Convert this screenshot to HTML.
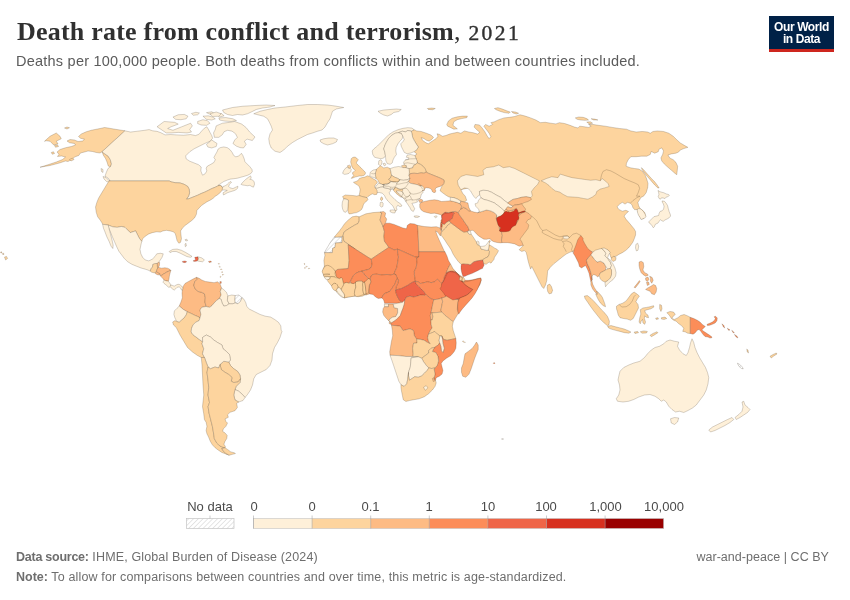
<!DOCTYPE html>
<html><head><meta charset="utf-8">
<title>Death rate from conflict and terrorism, 2021</title>
<style>
html,body{margin:0;padding:0;background:#fff;}
body{width:850px;height:600px;position:relative;overflow:hidden;font-family:"Liberation Sans",sans-serif;color:#5b5b5b;}
.t{position:absolute;white-space:nowrap;line-height:1;}
#title{left:17px;top:19px;font-family:"Liberation Serif",serif;font-size:26px;color:#303030;font-weight:bold;letter-spacing:0.22px}
#title span{font-weight:normal;}
#yr{font-size:21.5px;letter-spacing:2.4px;margin-left:1px;-webkit-text-stroke:0.4px #303030}
#sub{left:16px;top:54.3px;font-size:14.5px;color:#5b5b5b;letter-spacing:0.23px}
#logo{position:absolute;left:769px;top:16px;width:65px;height:33px;background:#002147;border-bottom:3px solid #ce261e;color:#fff;font-weight:bold;font-size:12px;line-height:12px;text-align:center;}
#logo div{margin-top:5px;letter-spacing:-0.4px}
.lg{font-size:13px;color:#4a4a4a;top:500px;transform:translateX(-50%);}
.ft{font-size:12.5px;color:#6e6e6e;}
</style></head><body>
<div id="title" class="t">Death rate from conflict and terrorism<span>, </span><span id="yr">2021</span></div>
<div id="sub" class="t">Deaths per 100,000 people. Both deaths from conflicts within and between countries included.</div>
<div id="logo"><div>Our World<br>in Data</div></div>
<svg id="map" width="850" height="600" viewBox="0 0 850 600" style="position:absolute;left:0;top:0">
<defs>
<pattern id="hatch" width="3.4" height="3.4" patternUnits="userSpaceOnUse" patternTransform="rotate(45)"><rect width="3.4" height="3.4" fill="#fff"/><rect width="0.8" height="3.4" fill="#e0e0e0"/></pattern>
</defs>
<g stroke="#3a2a1a" stroke-opacity="0.42" stroke-width="0.5" stroke-linejoin="round">
<path d="M414.12,129.76 416.76,130.94 421.18,131.47 426.47,133.24 430.88,135 433.53,137.29 431.76,139.41 429.12,141.18 426.47,140.29 423.82,138.53 421.18,137.65 422.59,140.29 425.59,142.59 428.24,143.82 430.88,142.06 433.53,140.29 436.18,138.53 437.94,136.24 437.06,133.76 439.71,134.47 442.35,136.24 445.88,135.53 449.41,134.12 452.94,133.24 457.35,132.35 460.88,133.24 464.41,130.94 468.82,132 473.23,132.71 477.65,134.12 479.76,132.35 476.76,129.71 474.12,127.06 475,124.41 479.41,124.94 482.06,127.94 484.71,131.47 487.35,136.24 489.12,138.53 490.88,136.76 489.12,133.24 486.47,129.71 483.82,126.18 485.59,124.41 489.12,126.18 492.65,124.41 490.88,122.65 494.41,121.76 498.82,119.65 504.12,117.88 509.41,117.35 514.71,116.47 520,114.71 525.29,116.12 530.59,117.88 535.88,120 539.41,122.12 540,122.65 545.29,122.29 550.59,123.18 555.88,123.88 559.41,122.65 564.71,123.53 570,125.29 574.41,127.06 577.94,127.94 579.71,126.18 584.12,126.71 588.53,127.41 591.18,126.18 588.53,124.41 592.94,124.41 598.23,125.29 605.29,126.18 612.35,127.41 619.41,128.47 626.47,129.18 630.88,130.94 636.18,132 642.35,131.47 647.65,132 650.29,133.24 652.94,131.47 657.35,130.94 663.53,131.47 668.82,133.24 673.23,136.24 676.76,139.76 680.29,142.94 684.71,145.59 687.88,147.35 683.82,148.59 680.29,150 678.53,152.12 675.88,153.18 671.47,153.88 667.94,154.94 669.71,157.94 673.23,159.71 675.88,162.35 677.65,166.23 677.29,170.29 676.76,174.71 674.47,172.94 671.47,170.29 667.94,167.29 664.41,164.12 661.76,160.94 660.88,157.94 662.65,154.41 663.53,150.88 661.76,147.88 659.12,149.12 658.23,151.76 654.71,153.18 651.18,151.41 650.29,154.41 646.76,156.18 641.47,156.18 636.18,156.71 630.88,156.71 628.23,159.71 626.47,163.23 626.12,166.23 630,167.65 634.41,168.53 638.82,169.06 642.35,171.18 645,174.71 646.76,179.12 648,183.53 647.65,187.94 647.59,187.88 646.18,192.65 643.53,196.18 640.88,197.41 639.65,199.71 637.88,202.35 638.59,205.53 640,208.53 642.65,210.29 644.94,212.94 645.65,216.47 643.53,218.59 641.41,219.12 639.65,216.47 638.23,212.94 637.35,209.41 634.71,209.76 632.94,207.65 632.06,205 630.29,203.24 627.65,202.35 625,204.12 622.35,202.35 619.71,204.12 617.06,206.76 618.82,209.41 622.35,211.18 625.88,210.29 628.53,211.53 625.88,213.82 624.12,216.12 625.88,219.12 628.53,222.12 631.18,225.29 633.82,228.47 635.59,231.47 635.59,235 634.35,238.53 632.94,242.06 630.82,245.06 628.53,247.88 625.88,250.35 622.35,252.65 618.82,254.41 616.18,256.18 613.53,256.71 612.65,258.82 610.88,257.41 609.12,251.76 607.65,249.71 600.59,254.12 588.23,250.59 581.18,250.59 575.53,250.59 574.12,250.94 572.35,251.47 569.71,252.35 566.18,254.12 562.65,256.76 558.24,260.29 553.82,263.82 550.29,267.35 547.65,270.88 547.29,275.29 546.76,280.59 545.53,285 543.76,288.53 542,286.76 539.71,282.35 537.06,277.06 534.41,271.76 531.76,266.47 530.59,269.12 529.18,264.71 527.94,260.29 527.06,255.88 526.18,252.35 524.41,250.59 521.76,251.47 519.12,249.71 520.88,247.94 523.18,245.65 516.47,238.23 512.94,234.71 509.41,220.59 514.71,208.23 520,201.18 520,192.35 505.88,185.29 479.41,185.29 460.88,189.71 462.65,193.24 465.29,196.24 466.71,200.29 464.41,202.06 460.88,201.18 457.35,199.06 453.82,197.65 450.29,197.29 448.25,196.63 445.25,194.75 442.25,192.5 440,190.63 440.75,188.75 441.5,186.88 442.63,185 443.75,183.5 444.13,181.25 443.77,179.88 439.53,177.77 436,176.35 432.47,174.94 428.94,173.53 426.12,172.12 425.41,169.29 423.29,166.47 420.47,164.35 417.37,162.94 416.94,160.82 416.24,158.71 415.53,157.29 414.82,155.46 416.94,154.05 415.53,153.06 414.12,151.65 416.94,149.53 418.35,146.99 416.24,143.88 414.12,140.35 412.71,137.53 412,134 411.29,131.18Z" fill="#fdd49e"/>
<path d="M324.41,266.18 328.82,265.82 332.35,267.94 335.53,271.12 336.76,273.76 339.41,274.65 342.94,277.65 346.47,281.18 349.12,282.94 346.47,282.06 344.71,283.82 343.82,286.47 342.94,290 342.06,290.35 340.29,289.12 338.53,290 336.76,292.12 335,290 333.24,287.35 332,284.71 330.59,282.06 328.82,280.29 326.18,278.53 324.41,276.76 323.53,274.12 322.65,271.47 323.18,268.82Z" fill="#fdd49e"/>
<path d="M336.76,292.12 338.53,290 340.29,289.12 342.06,290.35 342.94,290 343.82,292.65 344.71,295.29 344.35,297.94 341.18,296.71 338.53,294.41Z" fill="#fef0d9"/>
<path d="M344.35,297.94 344.71,295.29 343.82,292.65 342.94,290 343.82,286.47 344.71,283.82 346.47,282.06 349.12,282.94 350.88,282.59 352.65,283.82 354.41,282.59 355.29,284.71 356.18,288.24 355.29,291.76 356.18,296.18 353.53,296.18 348.24,297.06Z" fill="#fdd49e"/>
<path d="M356.18,296.18 355.29,291.76 356.18,288.24 355.29,284.71 354.41,282.59 356.18,281.53 359.71,281.18 362.35,282.06 363.24,284.71 362.71,289.12 363.76,292.65 365,294.94 362.35,296.18 357.94,296.71Z" fill="#fdd49e"/>
<path d="M365,294.94 363.76,292.65 362.71,289.12 363.24,284.71 362.35,282.06 364.12,280.82 365,283.82 365.53,288.24 366.24,294.94Z" fill="#fdd49e"/>
<path d="M366.24,294.94 365.53,288.24 365,283.82 364.12,280.82 366.76,279.41 368.53,277.65 370.29,278.53 370.82,282.06 369.41,285.59 369.06,290 369.41,293.88Z" fill="#fdbb84"/>
<path d="M446.18,272.94 444.41,276.47 443.53,280 441.76,283.53 442.65,286.47 444.41,289.12 446.18,291.76 447.06,294.41 450.59,297.06 455,299.18 458.53,299.71 463.24,297.29 466.76,295 470.29,292.35 472.94,289.18 471.18,287.94 468.53,286.18 466.24,284.41 464.12,283.18 462.35,281.76 462,279.12 460.24,276.47 457.94,273.82 455.29,271.53 451.76,270.82 448.24,271.53Z" fill="#ef6548"/>
<path d="M464.12,281.76 464.82,280.35 468.53,280.35 472.94,279.65 477.35,278.59 480.88,277.88 481.41,280 480,284.41 477.35,288.82 473.82,294.12 470.29,298.53 466.76,302.59 463.24,306.47 460.59,310 458.82,312.65 458.53,312.94 457.29,309.41 457.65,304.12 458.53,299.71 463.24,297.29 466.76,295 470.29,292.35 472.94,289.18 471.18,287.94 468.53,286.18 466.24,284.41 464.12,283.18 462.35,281.76Z" fill="#fc8d59"/>
<path d="M441.47,214.94 443.24,213.53 445,212.12 448.53,212.65 452.06,211.76 452.94,213.88 451.53,217.06 449.06,219.71 445.88,222 443.24,223.24 442,222.71 442,219.18 441.65,217.06Z" fill="#ef6548"/>
<path d="M496.71,214.94 499.71,213.53 504.12,211.76 508.53,210.88 512.94,210 516.47,208.23 517.88,210.88 518.23,213.53 521.76,211.76 524.94,210.88 525.65,211.76 521.76,213.18 519.12,215.29 517.88,217.94 518.23,220.59 516.47,223.23 513.82,225.53 511.18,227.65 507.65,230.29 503.23,231.53 499.71,230.29 498.82,225.88 497.41,222.35 496.18,218.82Z" fill="#fdbb84"/>
<path d="M503.76,210.71 505.88,208.76 508.88,210.71 508.35,212.29 505.88,211.59 504.12,212.65Z" fill="#fdbb84"/>
<path d="M352.29,216.82 356.18,216.12 359.18,216.82 359.18,220.88 357.94,223.53 354.41,225.29 350,227.94 346.47,230.24 343.82,232.35 342.94,236.24 337.65,237.29 334.12,237.29 336.76,234.12 339.41,230.94 342.06,227.41 344.71,223.53 348.24,220Z" fill="#fdd49e"/>
<path d="M334.12,237.29 342.06,237.29 342.06,242.59 335.53,242.94 335,247.35 332.71,248.23 332.35,252.65 324.41,252.65 325.29,250.88 327.94,246.47 330.59,242.06Z" fill="url(#hatch)"/>
<path d="M359.18,216.82 365.88,213.82 372.94,212.59 380,212.06 381.76,212.94 380.88,216.47 380,220 381.76,223.53 383.18,227.06 384.41,231.47 383.88,236.24 384.41,241.18 387.06,244.71 388.82,247.35 378.23,254.41 371.18,259.18 367.65,257.06 355.29,249.12 343.82,241.18 342.94,236.24 343.82,232.35 346.47,230.24 350,227.94 354.41,225.29 357.94,223.53 359.18,220.88Z" fill="#fdd49e"/>
<path d="M380,212.06 383.53,211.53 385.65,212.94 384.94,216.47 386.71,219.12 385.65,222.65 383.88,225.29 383.18,227.06 381.76,223.53 380,220 380.88,216.47 381.76,212.94Z" fill="#fdbb84"/>
<path d="M383.18,227.06 383.88,225.29 385.65,223.18 389.71,223.18 394.12,224.41 398.53,226.18 402.94,227.94 406.47,228.82 407.35,225.29 410,223.53 414.41,223.88 417.41,225.29 417.94,230.59 418.47,241.18 418.82,250.88 418.82,257.06 415.29,257.06 397.65,249.12 394.12,250 388.82,247.35 387.06,244.71 384.41,241.18 383.88,236.24 384.41,231.47Z" fill="#fc8d59"/>
<path d="M417.41,225.29 424.12,226.53 431.18,227.06 436.47,226.71 440,227.94 441.76,231.47 440.35,235.88 437.88,232.35 435.59,230.94 437,235 439.29,240.29 441.76,245.59 444.23,250.88 444.94,251.76 418.82,251.76 418.47,241.18 417.94,230.59Z" fill="#fdbb84"/>
<path d="M342.06,237.29 342.94,236.24 343.82,241.18 355.29,249.12 348.24,244.71 348.59,251.76 349.12,260.59 348.24,268.53 342.94,269.06 337.65,269.41 335.53,271.18 332.35,268.53 328.82,265.88 324.41,266.23 323.88,260.59 324.94,255.29 324.41,252.65 332.35,252.65 332.71,248.23 335,247.35 335.53,242.94 342.06,242.59Z" fill="#fdd49e"/>
<path d="M348.24,244.71 355.29,249.12 367.65,257.06 371.18,259.18 371.53,260.59 372.06,264.12 371.18,267.65 368.53,269.41 361.12,271.29 358.47,272 355.47,273.59 353.18,275.71 351.76,278.71 350.18,281.71 348.76,283.29 346.82,282.59 344.71,282.94 343.82,284 342.76,281 342.41,278.71 341.18,277.65 339.41,278.71 336.41,276.94 336.06,275 335.18,271.29 337.65,269.41 342.94,269.06 348.24,268.53 349.12,260.59 348.59,251.76Z" fill="#fc8d59"/>
<path d="M371.18,259.18 378.23,254.41 388.82,247.35 394.12,250 397.65,249.12 397.65,252.65 398.53,257.06 397.65,262.35 396.76,267.65 395,271.18 394.12,273.82 395.88,274.65 394.12,274.12 390.59,275 387.06,274.47 381.76,275 376.47,274.12 372.94,274.47 371.18,275.88 370.29,278.53 369.76,279.06 368.26,278.35 366.76,276.87 364.47,274.65 363.01,272.35 361.12,271.29 368.53,269.41 371.18,267.65 372.06,264.12 371.53,260.59Z" fill="#fc8d59"/>
<path d="M397.65,249.12 415.29,257.06 418.82,257.06 416.71,257.94 417.06,262.35 416.18,267.65 414.41,271.18 414.41,274.71 414.94,277.65 415.29,281.18 411.76,282.59 408.23,285.06 404.71,286.82 401.18,288.59 397.65,289.47 395.53,290.35 396.23,286.47 397.65,283.82 398.53,280.29 397.29,278.53 395.88,274.65 394.12,273.82 395,271.18 396.76,267.65 397.65,262.35 398.53,257.06 397.65,252.65Z" fill="#fc8d59"/>
<path d="M418.82,251.76 444.94,251.76 447.06,256.18 448.47,260.59 450.59,264.12 449.71,265 447.94,268.53 446.18,272.94 444.41,276.47 443.53,280 441.76,283.53 440,281.76 437.35,279.12 434.71,281.76 431.18,282.65 427.65,281.76 424.12,282.65 420.59,283.53 417.94,281.76 415.29,281.18 414.94,277.65 414.41,274.71 414.41,271.18 416.18,267.65 417.06,262.35 416.71,257.94 418.82,257.06Z" fill="#fc8d59"/>
<path d="M369.41,293.88 369.06,290 369.41,285.59 370.82,282.06 370.29,278.53 371.18,275.88 372.94,274.47 376.47,274.12 381.76,275 387.06,274.47 390.59,275 394.12,274.12 395.88,274.65 397.29,278.53 395.88,281.18 395,283.82 393.23,286.47 391.47,289.12 389.71,291.41 387.06,292.65 384.41,293.53 382.65,296.18 381.76,297.94 378.23,298.47 375.59,297.06 372.94,294.41Z" fill="#fc8d59"/>
<path d="M381.76,297.94 382.65,296.18 384.41,293.53 387.06,292.65 389.71,291.41 391.47,289.12 393.23,286.47 395,283.82 395.88,281.18 397.29,278.53 398.53,280.29 397.65,283.82 396.23,286.47 395.53,290.35 396.23,293.53 397.65,297.06 399.76,300.59 402.59,302.35 397.65,303.24 390.59,303.24 384.41,303.24 384.41,302.35 383.53,299.71Z" fill="#fc8d59"/>
<path d="M395.53,290.35 397.65,289.47 401.18,288.59 404.71,286.82 408.23,285.06 411.76,282.59 415.29,281.18 416.18,283.82 418.82,286.47 421.47,289.12 424.12,291.76 425.88,294.41 425,295.29 420.59,294.94 417.06,296.18 413.53,297.06 410,296.18 406.47,297.06 404.71,300.24 402.59,302.35 399.76,300.59 397.65,297.06 396.23,293.53Z" fill="#ef6548"/>
<path d="M415.29,281.18 417.94,281.76 420.59,283.53 424.12,282.65 427.65,281.76 431.18,282.65 434.71,281.76 437.35,279.12 440,281.76 441.76,283.53 442.65,286.47 444.41,289.12 446.18,291.76 447.06,294.41 445.29,297.06 441.76,297.94 438.23,299.18 433.82,299.71 431.18,298.82 428.53,297.06 425.88,294.41 424.12,291.76 421.47,289.12 418.82,286.47 416.18,283.82Z" fill="#fc8d59"/>
<path d="M384.41,304.12 388.47,304.12 388.47,306.76 384.41,306.76Z" fill="#fef0d9"/>
<path d="M384.41,306.76 388.47,306.76 388.47,304.12 393.23,304.12 394.12,307.65 397.65,308.53 397.65,312.94 395.88,316.47 392.35,317.35 389.71,319.12 388.82,320.88 386.18,318.23 383.88,315.59 382.65,312.06 383.18,308.53Z" fill="#fdbb84"/>
<path d="M393.23,304.12 397.65,303.24 402.59,302.35 404.71,300.24 404.35,304.12 402.94,308.53 401.53,312.06 400.29,315.59 397.65,318.23 395.88,320 393.23,321.76 390.59,323.53 389.18,320.88 389.71,319.12 392.35,317.35 395.88,316.47 397.65,312.94 397.65,308.53 394.12,307.65Z" fill="#fef0d9"/>
<path d="M404.71,300.24 406.47,297.06 410,296.18 413.53,297.06 417.06,296.18 420.59,294.94 425,295.29 425.88,294.41 428.53,297.06 431.18,298.82 433.82,299.71 432.94,303.24 432.06,307.65 431.18,312.06 430.29,315.59 430.82,320 431.18,324.41 432.06,327.94 430.29,330.59 428.53,334.12 427.65,337.65 428.53,341.18 430.29,343.82 426.76,342.06 424.12,340.29 420.59,339.41 416.71,339.06 414.41,335.88 413.53,330.59 410,328.82 406.47,329.71 402.94,330.59 400.29,326.18 395.88,325.65 391.47,325.29 390.59,323.53 393.23,321.76 395.88,320 397.65,318.23 400.29,315.59 401.53,312.06 402.94,308.53 404.35,304.12Z" fill="#fc8d59"/>
<path d="M433.82,299.71 438.23,299.18 441.76,297.94 442.65,301.47 441.76,305.88 440.88,310.29 441.76,312.06 436.47,312.59 432.06,312.94 431.18,312.06 432.06,307.65 432.94,303.24Z" fill="#fdbb84"/>
<path d="M431.18,312.06 432.06,312.94 432.94,316.47 432.23,320 430.82,320 430.29,315.59Z" fill="#fdbb84"/>
<path d="M441.76,297.94 445.29,297.06 447.06,294.41 450.59,297.06 455,299.18 458.53,299.71 457.65,304.12 457.29,309.41 458.53,312.94 455.88,317.35 453.23,321.76 449.71,319.12 445.29,315.59 441.76,312.06 440.88,310.29 441.76,305.88 442.65,301.47Z" fill="#fdbb84"/>
<path d="M432.06,312.94 436.47,312.59 441.76,312.06 445.29,315.59 449.71,319.12 453.23,321.76 452.35,326.18 453.23,330.59 455,335.88 455.88,338.53 451.47,339.41 447.06,340.29 443.53,339.41 441.76,335.88 440,335.88 437.35,334.12 434.71,331.47 432.94,332.35 428.53,334.12 430.29,330.59 432.06,327.94 431.18,324.41 430.82,320 432.23,320 432.94,316.47Z" fill="#fdd49e"/>
<path d="M391.47,325.29 395.88,325.65 400.29,326.18 402.94,330.59 406.47,329.71 410,328.82 413.53,330.59 414.41,335.88 416.71,339.06 417.06,342.94 413.53,343.29 412.65,348.23 413.18,353.53 412.94,356.47 405.88,356.47 397.94,355.59 390,355.24 389.71,351.76 390.59,346.47 391.47,341.18 392.71,335.88 392.35,330.59Z" fill="#fdbb84"/>
<path d="M389.35,321.41 390.94,322.12 390.59,324.23 389.18,323.53Z" fill="#fdbb84"/>
<path d="M416.71,339.06 420.59,339.41 424.12,340.29 426.76,342.06 430.29,343.82 428.53,341.18 427.65,337.65 428.53,334.12 432.94,332.35 434.71,331.47 437.35,334.12 440,335.88 439.12,340.29 439.65,342.94 438.23,345.06 434.71,347.35 431.18,348.23 428.53,350.88 428.82,352.94 425.29,355.59 421.76,358.24 418.24,356.82 412.94,356.47 413.18,353.53 412.65,348.23 413.53,343.29 417.06,342.94Z" fill="#fdd49e"/>
<path d="M440,335.88 441.76,335.88 442.65,339.41 443.18,343.82 444.41,348.23 443.18,352.65 441.41,350.88 440.88,346.47 439.65,342.94 439.12,340.29Z" fill="#fef0d9"/>
<path d="M443.53,339.41 447.06,340.29 451.47,339.41 455.88,338.53 456.23,342.94 455.88,348.23 454.12,351.76 450.88,355.59 446.47,358.24 442.94,360.88 441.18,363.53 442.06,367.06 442.94,370.59 442.06,374.12 439.41,376.24 436.24,377.65 435.53,380.29 434.12,379.41 434.12,377.65 435,374.12 434.12,369.18 435,367.94 437.29,365.29 438.53,360.88 438,356.47 435.88,352.59 432.35,351.53 432.94,350 434.71,347.35 438.23,345.06 439.65,342.94 440.88,346.47 441.41,350.88 443.18,352.65 444.41,348.23 443.18,343.82 442.65,339.41 441.76,335.88Z" fill="#fc8d59"/>
<path d="M421.76,358.24 425.29,355.59 428.82,352.94 428.53,350.88 431.18,348.23 434.71,347.35 432.94,350 432.35,351.53 435.88,352.59 438,356.47 438.53,360.88 437.29,365.29 435,367.94 431.47,368.47 428.82,367.94 426.18,365.29 423.53,361.76Z" fill="#fdd49e"/>
<path d="M390,355.24 397.94,355.59 405.88,356.47 412.94,356.47 418.24,356.82 411.18,357.88 410.82,361.76 410.29,367.06 408.53,372.35 407.65,379.41 406.76,383.82 404.12,386.47 400.94,384.71 398.82,381.18 397.06,375.88 395.29,370.59 393.53,365.29 391.76,360Z" fill="#fef0d9"/>
<path d="M410.82,361.76 411.18,357.88 418.24,356.82 421.76,358.24 423.53,361.76 426.18,365.29 428.82,367.94 427.06,370.59 424.41,373.24 421.76,375.88 418.24,377.29 414.71,376.76 412.06,378.53 409.41,380.29 408.53,375.88 408.53,372.35 410.29,367.06Z" fill="#fef0d9"/>
<path d="M404.12,386.47 406.76,383.82 407.65,379.41 408.53,372.35 408.53,375.88 409.41,380.29 412.06,378.53 414.71,376.76 418.24,377.29 421.76,375.88 424.41,373.24 427.06,370.59 428.82,367.94 431.47,368.47 435,367.94 434.12,369.18 435,374.12 434.12,377.65 434.12,379.41 435.53,380.29 436.24,382.94 435,386.47 432.35,390 428.82,393.53 424.41,396.71 419.12,398.82 413.82,399.71 409.41,400.59 405.88,401.47 403.24,399.71 402.35,395.29 401.47,390.88 400.94,387.35 400.94,384.71Z" fill="#fdd49e"/>
<path d="M423.53,387.35 426.18,385.59 427.94,387.88 425.29,390.35Z" fill="#fef0d9"/>
<path d="M432.35,378.53 434.12,377.65 434.12,379.41 435.18,380.82 433.24,381.53Z" fill="#fdbb84"/>
<path d="M476.47,342 478.23,345 478.23,349.41 476.47,353.82 474.71,358.24 472.94,363.53 471.18,368.82 469.06,374.12 465.88,377.29 462.71,376.24 461.47,372.35 461.47,367.94 463.23,363.53 464.12,358.24 465,353.82 468.53,351.18 472.06,348.53 474.35,345.53Z" fill="#fdbb84"/>
<path d="M450.59,264.12 449.71,265 447.94,268.53 446.18,272.94 448.24,271.53 451.76,270.82 455.29,271.53 457.94,273.82 460.24,276.47 462,279.12 463.24,277.35 460.24,275.59 457.41,273.65 454.94,270.82 452.82,268.35 451.59,265.88Z" fill="#fdbb84"/>
<path d="M462,279.12 463.24,277.35 464.82,279.12 464.12,281.76 462.35,281.76Z" fill="#fdd49e"/>
<path d="M322.13,271.25 323.25,269 325.13,266 327.75,265.25 330.38,266.38 332.63,267.88 334.13,269.75 335.25,271.25 334.88,273.5 335.63,275.75 334.13,276.88 330.75,276.5 327.75,276.65 325.13,276.88 323.63,276.13 323.25,274.25 322.5,272.75Z" fill="#fdd49e"/>
<path d="M324.38,277.4 325.13,276.88 327.75,276.65 330.38,277.4 330,278.75 328.13,279.65 326.25,279.5 325.13,278.6Z" fill="#fef0d9"/>
<path d="M330.38,277.4 330.75,276.5 334.13,276.88 335.63,277.63 337.5,278 339.38,278.75 341.25,277.63 342.38,278.75 342.75,281 343.13,282.5 343.88,284 343.13,285.88 342,287.75 341.25,289.63 340.13,288.5 339,287.38 337.88,286.25 337.13,284.75 336,283.63 334.13,283.25 332.63,284.38 331.5,285.88 330,284 328.5,282.13 327.38,280.63 328.13,279.65 330,278.75Z" fill="#fdd49e"/>
<path d="M331.5,285.88 332.63,284.38 334.13,283.25 336,283.63 337.13,284.75 337.88,286.25 337.5,288.13 336.38,289.63 335.25,290.75 333.75,290 332.63,288.5 331.88,287.15Z" fill="#fdd49e"/>
<path d="M336.38,290 337.65,288.13 339,287.38 340.13,288.5 341.25,289.63 342.38,291.5 343.88,293.38 344.63,295.25 344.4,297.88 343.13,297.35 341.25,296 339.38,294.13 337.65,292.25Z" fill="#fef0d9"/>
<path d="M343.13,285.88 343.88,284 344.63,282.88 346.88,282.5 348.75,283.25 351,282.88 353.25,283.63 355.5,282.5 355.5,284.75 355.88,287 355.13,289.25 354.6,291.5 354.38,293.75 355.13,295.85 352.88,296.38 350.25,296.75 347.63,297.13 345,297.65 344.4,297.88 344.63,295.25 343.88,293.38 342.38,291.5 341.25,289.63 342,287.75Z" fill="#fdd49e"/>
<path d="M355.5,281.75 357.75,281 360,280.85 362.25,281 363,282.5 362.63,284.75 363,287 362.85,290 363.38,293 363.9,294.35 361.5,295.25 358.88,296.15 356.63,296.6 355.13,295.85 354.38,293.75 354.6,291.5 355.13,289.25 355.88,287 355.5,284.75Z" fill="#fdd49e"/>
<path d="M363,282.5 364.13,281.75 364.88,283.25 365.25,285.5 365.63,288.5 366,291.5 366,293.75 363.9,294.35 363.38,293 362.85,290 363,287 362.63,284.75Z" fill="#fdd49e"/>
<path d="M364.88,281.75 366.38,280.25 368.25,278.38 369.75,279.13 370.88,281 370.5,282.88 369.38,284.75 369,287 368.63,290 368.4,293 366,293.75 366,291.5 365.63,288.5 365.25,285.5 364.88,283.25 364.13,281.75Z" fill="#fdbb84"/>
<path d="M350.25,281.75 351.75,278.75 353.25,275.75 355.5,273.5 358.5,272 361.13,271.25 363,272.38 364.5,274.63 366.75,276.88 368.25,278.38 366.38,280.25 364.88,281.75 364.13,281.75 363,282.5 362.25,281 360,280.85 357.75,281 355.5,281.75 355.5,282.5 353.25,283.63 351,282.88Z" fill="#fc8d59"/>
<path d="M125,130.75 120,130 113.75,129 108,128 104.5,127.5 101.25,128.25 96.25,129.25 91.25,130.25 86.25,131.75 81.25,134 78.5,136.5 80.5,138.25 84.5,139.25 82.5,141 78,141.5 74.5,140 70,139.5 67,141 69.5,142.75 74.5,143.5 75.5,145 71.25,146.5 65.5,147.75 60,149.5 57,152 59,154.25 57.5,156.5 61.5,156 65.5,157 62.5,159.5 56.25,162 48.75,164.5 40,167.25 50,165.5 59.5,163 65.5,161 68,161.5 72.5,159 74.5,157 78.75,155.5 80.5,153 84.5,152 88,151 92.5,151.5 96.25,152.5 100,153 102,151.75 105,154 108,156 110.25,159.5 111.5,164 110.25,167 108.25,166 107,162 105.5,158.5 103.5,155.5 102,151.75Z" fill="#fdd49e"/>
<path d="M44.5,141.25 50,136.25 56.25,133 60,136.25 61.25,138.75 56.25,141.25 58,143.75 53.75,145 50,141.25 46.25,140.75Z" fill="#fdd49e"/>
<path d="M64.5,128 67,127 69.5,127.75 67,129Z" fill="#fdd49e"/>
<path d="M51.25,152.5 53.5,151.75 54.5,153.5 52.25,154.25Z" fill="#fdd49e"/>
<path d="M54.5,145.5 57.5,144.75 58.5,146.5 55.5,147.25Z" fill="#fdd49e"/>
<path d="M69.5,159.5 72.5,158 74,159.5 71,161Z" fill="#fdd49e"/>
<path d="M125,130.75 124.94,130.82 130.59,132.06 137.65,131.18 144.71,130.29 149.12,129.59 152.65,130.82 157.06,131.35 160.94,132.76 165,134.88 170.29,134.53 176.47,134.88 183.53,135.24 190.59,134.53 195.53,135.59 199.06,134.18 201.53,131.18 204.35,128.18 206.82,126.76 208.59,129.59 210,132.41 211.76,135.59 212.65,138.24 210,141.24 204.71,143.53 199.41,146.18 194.12,148.82 189.71,151.82 185.65,155.88 186.18,158.88 189.71,161.18 194.12,162.94 198.53,164.71 201.18,167 200.82,170.88 202.06,174.06 202.59,175.18 205.13,173.76 206.82,170.94 206.12,168.12 207.53,166 210.35,164.59 213.88,162.47 215.29,159.65 213.88,157.53 215.29,154.71 216.99,151.88 218.12,149.06 220.24,147.65 223.76,146.94 227.29,147.65 230.12,149.76 232.24,152.59 233.65,155.41 235.76,156.82 238.59,156.12 241.41,153.29 242.82,155.41 244.24,158.94 244.94,161.76 247.06,163.88 249.88,166.71 252,169.53 252.28,171.65 250.59,173.76 247.77,175.18 244.24,176.31 240.71,177.29 237.18,178.28 233.65,178.71 230.12,179.13 227.29,180.12 223.76,181.53 220.94,183.36 218.12,185.34 220.24,185.34 218.12,185.76 215.29,187.18 211.76,188.59 208.24,190.42 204.71,192.12 201.18,193.53 197.65,195.22 194.12,196.64 191.29,197.77 188.47,198.89 186.35,199.18 188.47,196.35 189.6,192.82 189.18,189.29 187.76,186.47 184.24,184.35 180,182.94 175.29,182.71 171.76,182 169.12,180.94 109.12,180.94 110,180.5 108,178 105,176.25 106.25,172.5 108,168.5 110.25,167 111.5,164 110.25,159.5 108,156 105,154 102,151.75Z" fill="#fef0d9"/>
<path d="M103,176.5 106,177.5 109,180.5 109.5,182.5 106.5,181.5 104,179Z" fill="#fef0d9"/>
<path d="M101,168.5 103,169.5 103,172.5 101.5,171.5Z" fill="#fef0d9"/>
<path d="M222.35,188.16 223.06,186.47 225.18,185.76 227.29,184.35 228.71,182.94 230.12,181.53 231.53,182.24 229.41,184.35 228.71,186.47 230.12,187.88 232.94,188.59 235.76,187.18 237.88,186.19 237.6,188.16 235.76,190 232.94,190.99 230.12,191.84 227.29,192.82 224.89,194.24 223.48,194.94 223.06,192.82 225.18,191.41 227.29,190.42 224.89,190 222.35,190 220.94,190 222.07,186.19 220.24,185.34Z" fill="#fef0d9"/>
<path d="M240.99,184.35 242.82,182.24 245.65,179.41 248.47,177.29 250.59,175.88 251.29,178 249.88,179.41 252,179.69 254.12,181.53 254.54,184.35 253.41,187.18 251.72,186.47 249.88,185.34 247.48,185.76 244.94,185.34 242.82,185.06Z" fill="#fef0d9"/>
<path d="M216.18,125.88 222.35,123.24 229.41,122.35 234.71,121.47 241.76,124.12 246.18,127.65 249.71,132.06 255,137 252.35,140.53 247.06,139.12 244.41,141.24 246.18,144.41 243.53,147.94 240,147.59 236.47,146.18 232.94,143.53 234.71,140 237.35,137.35 235.59,133.82 232.06,131.18 227.65,130.29 224.12,131.71 222.35,134.71 218.82,137.35 214.41,137.35 213.53,132.94 215.29,129.41Z" fill="#fef0d9"/>
<path d="M206.47,144.41 211.76,140 217.06,143.53 216.18,146.53 211.76,147.94 207.88,147.06Z" fill="#fef0d9"/>
<path d="M157.06,126.76 164.12,121.47 174.71,122.35 178.23,124.12 171.18,126.76 167.65,128.53 172.94,130.29 181.76,126.76 190.59,123.24 192.35,125.88 189.71,129.41 191.47,132.06 187.06,132.94 178.23,132.41 171.18,132.94 166.24,132.94Z" fill="#fef0d9"/>
<path d="M172.94,117.06 178.23,114.76 184.41,114.41 187.94,116.18 186.18,118.82 180.88,119.71 175.59,119.35Z" fill="#fef0d9"/>
<path d="M191.47,113.53 195.88,112.29 199.41,113 197.65,114.76 193.23,115.29Z" fill="#fef0d9"/>
<path d="M197.65,121.47 202.94,119.71 207.35,120.59 210,123.24 206.47,125.35 201.18,125 197.65,123.59Z" fill="#fef0d9"/>
<path d="M206.47,112.65 211.76,111.76 214.41,113.53 210.88,114.76Z" fill="#fef0d9"/>
<path d="M216.18,114.41 221.47,113.53 224.12,115.82 219.71,117.06Z" fill="#fef0d9"/>
<path d="M218.82,117.94 225.88,117.59 232.94,118.82 236.47,120.59 231.18,121.47 225,121.12 219.71,120.06Z" fill="#fef0d9"/>
<path d="M202.94,116.18 208.23,115.82 212.65,117.06 215.29,118.82 211.76,120.06 206.47,119.35Z" fill="#fef0d9"/>
<path d="M222.5,110 232.5,107.5 242.5,106.25 255,105.5 266.25,105 275,105.5 270,107 262.5,108 256.25,109.5 251.25,112 247.5,113.75 242.5,115 237.5,114.5 232.5,115.5 227.5,114.5 223.75,112.5Z" fill="#fef0d9"/>
<path d="M210,113.75 216.25,112 221.25,113.75 218.75,116.25 212.5,116.5Z" fill="#fef0d9"/>
<path d="M253.75,113.75 260,111.25 267.5,109.5 275,108 285,107 297.5,105.5 307.5,104.5 317.5,104.5 327.5,105 335,106 343.75,107.5 336.25,109 332.5,111.25 331.25,115 330,118.75 327.5,122.5 325,127 322,130 317.5,131.25 312.5,133 307.5,134.5 302.5,137 297.5,139.5 292.5,142.5 287.5,146.25 283.75,150 280,152.5 275,151.25 271.25,148 269.5,143.75 268.75,138.75 270,133.75 272.5,130 271.25,126.25 269.5,122.5 267.5,118.75 263.75,116.25 258.75,115Z" fill="#fef0d9"/>
<path d="M320,140 323.75,138.75 328.75,138 333.75,138 337.5,139.5 336.25,142 332.5,143.75 327.5,145 323.75,143.75 320.75,142Z" fill="#fef0d9"/>
<path d="M378,111.25 383.75,110 390,109.5 396.25,109 401.25,109.5 398.75,111.5 393.75,112.5 391.25,114.5 387.5,116 383.75,115 380,113Z" fill="#fef0d9"/>
<path d="M109.12,180.94 106.47,185 103.82,189.41 101.18,193.82 98.53,198.24 96.76,202.65 95.53,207.06 96.24,212.35 97.65,216.76 100.29,220.29 102.06,222.94 102.59,224.35 105.59,224.71 108.24,225.06 112.65,226.82 117.06,227.35 121.47,226.47 125,227.35 127.65,230 130.29,232.65 132.94,231.76 135.59,230.88 137.35,234.41 139.12,237.94 140.88,240.23 141.76,241.47 142.65,238.82 145.29,236.18 148.82,233.88 152.35,232.65 156.76,231.76 160.29,232.12 162.94,230.88 166.47,230.35 170,230.88 173.18,231.76 175.29,233.53 176.18,237.06 177.06,240.59 178.82,243.23 180.59,242.35 181.47,238.82 180.94,234.41 180.59,230.88 182.35,228.23 185,225.59 188.53,222.94 192.06,220.29 194.71,217.65 196.47,214.12 196.82,210.59 199.12,207.94 201.76,205.29 204.41,203.53 207.06,201.76 210.59,200 213.23,198.24 215,196.47 217.65,194.71 220.29,192.59 222.06,190.29 222.59,187.65 220.24,185.34 218.12,185.76 215.29,187.18 211.76,188.59 208.24,190.42 204.71,192.12 201.18,193.53 197.65,195.22 194.12,196.64 191.29,197.77 188.47,198.89 186.35,199.18 188.47,196.35 189.6,192.82 189.18,189.29 187.76,186.47 184.24,184.35 180,182.94 175.29,182.71 171.76,182 169.12,180.94Z" fill="#fdd49e"/>
<path d="M108.24,225.06 112.65,226.82 117.06,227.35 121.47,226.47 125,227.35 127.65,230 130.29,232.65 132.94,231.76 135.59,230.88 137.35,234.41 139.12,237.94 140.88,240.23 141.76,241.47 140.88,245 140,249.41 140.88,253.82 142.65,257.35 145.29,260 148.82,260.88 152.35,259.12 155,256.47 156.76,253.82 160.29,253.29 163.29,253.82 162.06,257.35 160.29,260 158.53,262.65 157.38,263.35 154.82,264.06 152.88,264.41 152.53,267.06 150.94,268.82 150.23,271.12 147.94,270.06 145.29,269.18 140.88,267.94 136.47,266.18 132.06,264.41 127.65,261.76 124.12,258.23 121.47,254.71 118.82,251.18 116.71,246.76 114.41,241.47 112.12,236.18 110,230.88 108.59,227.35Z" fill="#fef0d9"/>
<path d="M102.59,224.35 105.59,224.71 108.24,225.06 109.12,229.12 110.35,233.53 111.76,238.82 113.18,245 112.82,248.53 111.06,246.23 109.12,241.47 106.82,236.71 105.06,232.12 103.47,228.23Z" fill="#fef0d9"/>
<path d="M169.12,251.53 172.65,249.41 177.06,249.06 181.47,250.29 185.88,252.59 189.41,254.71 192.06,256.47 190.29,257.35 186.76,256.47 183.23,254.71 179.71,252.94 176.18,251.53 172.65,251.53 170,252.59Z" fill="#fef0d9"/>
<path d="M194.71,257.35 197.88,256.82 198.59,259.12 197.35,260.88 194.71,261.41 192.94,260.88 195.59,259.65Z" fill="#ef6548"/>
<path d="M197.88,256.82 201.76,257.88 204.41,260 202.65,261.76 199.65,261.41 197.35,260.88 198.59,259.12Z" fill="#fef0d9"/>
<path d="M182.35,261.41 185,260.88 186.76,261.76 185,262.65 182.71,262.29Z" fill="#ef6548"/>
<path d="M208.47,261.41 210.94,261.06 211.47,262.12 209.18,262.47Z" fill="#fc8d59"/>
<path d="M185,239.71 186.76,239.18 187.65,240.59 185.88,240.94Z" fill="#fef0d9"/>
<path d="M185,244.12 185.88,243.23 186.41,245.88 185.35,246.76Z" fill="#fef0d9"/>
<path d="M4.5,257 6.5,256.4 7.6,258.4 5.6,260Z" fill="#fdd49e"/>
<path d="M2.4,253.6 3.6,253.2 3.9,254.4 2.8,254.6Z" fill="#fdd49e"/>
<path d="M0.6,252 1.6,251.8 1.8,252.8 0.8,252.9Z" fill="#fdd49e"/>
<path d="M182.35,289.71 183.24,286.18 185,283.53 188.53,281.41 192.94,279.12 196.47,277.35 197.35,279.12 194.71,281.76 193.82,285.29 195.06,288.82 198.23,291.47 201.76,292.35 204.41,293.76 205.29,297.65 204.94,302.06 206.18,306.47 201.76,307.35 200,310 200.88,314.41 200,317.94 198.23,316.71 194.71,315.29 191.18,313.53 187.29,311.76 184.12,310 181.47,307.88 179.18,306.12 180.94,302.06 182.35,297.65 182,293.24Z" fill="#fdbb84"/>
<path d="M196.47,277.35 199.12,278.24 201.76,280 205.29,281.41 209.71,282.12 214.12,282.65 217.65,281.76 220.29,284.41 221.53,287.94 220.29,291.47 221.18,295 219.41,298.53 216.76,300.29 214.12,302.94 212,305.59 209.71,307.35 207.06,306.82 206.18,306.47 204.94,302.06 205.29,297.65 204.41,293.76 201.76,292.35 198.23,291.47 195.06,288.82 193.82,285.29 194.71,281.76 197.35,279.12Z" fill="#fdbb84"/>
<path d="M219.76,281.76 221.18,281.41 221.35,283.18 219.94,283.53Z" fill="#fc8d59"/>
<path d="M221.53,287.94 223.82,289.71 226.47,292.35 227.88,295.88 227.35,300.29 229.12,303.82 226.47,305.59 223.82,306.12 222.06,302.94 221.18,299.41 219.41,298.53 221.18,295 220.29,291.47Z" fill="#fef0d9"/>
<path d="M227.88,295.88 231.76,295 235.29,295.53 234.94,299.41 235.29,302.94 232.65,303.82 229.12,303.82 227.35,300.29Z" fill="#fef0d9"/>
<path d="M235.29,295.53 238.82,295 242,297.65 240.59,301.18 237.94,303.82 235.29,302.94 234.94,299.41Z" fill="url(#hatch)"/>
<path d="M174.41,310.88 177.06,308.23 179.18,306.12 181.47,307.88 184.12,310 187.29,311.76 186.24,314.94 184.12,317.94 181.47,320.23 179.18,322.35 176.71,321.47 174.94,317.94 173.88,314.41Z" fill="#fef0d9"/>
<path d="M172.65,322 174.94,320.59 176.71,321.47 179.18,322.35 181.47,320.23 184.12,317.94 186.24,314.94 187.29,311.76 191.18,313.53 194.71,315.29 198.23,316.71 200,317.94 199.12,320.59 195.59,322.35 192.94,325 191.53,328.53 191.18,332.06 192.94,334.71 196.47,337.35 200,340 202.65,341.76 202,343.75 203.75,348.75 202.5,353.75 204.5,357.5 201.25,357.5 197.5,355.5 192.5,352 187.5,347.5 183.75,341.25 180,335 176.25,327.5 173.53,325Z" fill="#fdd49e"/>
<path d="M200,317.94 200.88,314.41 200,310 201.76,307.35 206.18,306.47 207.06,306.82 209.71,307.35 212,305.59 214.12,302.94 216.76,300.29 219.41,298.53 221.18,299.41 222.06,302.94 223.82,306.12 226.47,305.59 229.12,303.82 232.65,303.82 235.29,302.94 237.94,303.82 240.59,301.18 242,297.65 244.12,299.41 245.88,302.94 246.76,306.47 249.41,309.12 254.71,311.76 260,314.41 265.29,316.18 270.59,317.06 275,319.71 278.53,322.35 280.82,325.88 281.18,330.29 282,331.25 280,337.5 277.5,342.5 274.5,347.5 272.5,353.75 272,360 270,365.5 266.25,369.5 261.25,372 256.25,374.5 253.75,378.75 252.5,385 250.5,390 247.5,394.5 245,397.5 242.5,394.5 238.75,391.25 235,389.5 236.25,386.25 240,382.5 240.5,378.75 240,375 237.5,371.25 233.75,368.75 230.5,365.5 228.75,362 230.5,360 229.5,354.5 226.25,351.25 223,348.75 222,345 217.5,342.5 213.75,340 210.5,337 206.25,335 202.5,337.5 202.65,341.76 200,340 196.47,337.35 192.94,334.71 191.18,332.06 191.53,328.53 192.94,325 195.59,322.35 199.12,320.59Z" fill="#fef0d9"/>
<path d="M235,389.5 238.75,391.25 242.5,394.5 245,397.5 243,400.5 238.75,402 235,400 233.75,395Z" fill="#fef0d9"/>
<path d="M220,364.5 223.75,361.25 228.75,362 230.5,365.5 233.75,368.75 237.5,371.25 240,375 240.5,378.75 238,382 233.75,382.5 231.25,381.25 232,377.5 228.75,374.5 224.5,372 221.25,369.5Z" fill="#fdd49e"/>
<path d="M202.5,337.5 206.25,335 210.5,337 213.75,340 217.5,342.5 222,345 223,348.75 226.25,351.25 229.5,354.5 230.5,360 228.75,362 223.75,361.25 220,364.5 218.75,368 215,367 210.5,368.75 208,367 206.25,362.5 204.5,357.5 202.5,353.75 203.75,348.75 202,343.75 202.65,341.76Z" fill="#fef0d9"/>
<path d="M201.25,357.5 204.5,357.5 206.25,362.5 208,367 207,372.5 208,380 208.75,387.5 208,395 209.5,402.5 208.09,406.59 209.08,413.18 210.73,419.76 212.38,426.35 213.53,432.94 214.35,438.71 216.82,443.15 220.12,446.12 223.41,447.44 225.06,447.76 221.76,448.59 223.41,451.06 225.88,453.53 229.18,455.18 225.88,454.02 221.76,452.38 218.47,450.24 215.18,447.76 212.38,444.8 210.24,441.18 208.59,437.06 206.94,433.76 206.12,430.47 206.94,426.35 206.12,422.24 204.47,419.76 203.65,413.18 202.49,406.59 203.75,395 203,385 202.5,375 202,365Z" fill="#fdd49e"/>
<path d="M208,367 210.5,368.75 215,367 218.75,368 220,364.5 221.25,369.5 224.5,372 228.75,374.5 232,377.5 231.25,381.25 233.75,382.5 238,382 240.5,378.75 240,382.5 236.25,386.25 235,389.5 233.75,395 235,400 238.75,402 236.59,403.29 237.41,407.41 234.94,410.71 230,412.35 227.53,414.82 228.35,417.29 225.06,418.94 225.88,421.41 227.53,423.06 225.88,426.35 223.41,428.82 222.59,431.29 225.06,432.94 227.2,435.41 226.71,438.71 225.06,441.18 223.91,444.14 225.55,446.94 225.06,447.76 223.41,447.44 220.12,446.12 216.82,443.15 214.35,438.71 213.53,432.94 212.38,426.35 210.73,419.76 209.08,413.18 208.09,406.59 209.5,402.5 208,395 208.75,387.5 208,380 207,372.5Z" fill="#fdd49e"/>
<path d="M225.06,447.76 227.53,449.41 230.82,451.88 234.12,452.71 235.44,453.53 232.47,454.35 229.18,455.18 225.88,453.53 223.41,451.06 221.76,448.59Z" fill="#fdd49e"/>
<path d="M150.25,271.13 151,268.88 152.5,267 152.88,264.38 154.75,263.63 157.38,263.4 157.38,266.25 157.75,267.75 157,269.63 156.25,271.5 155.13,272.85 153.25,272.63 151.38,272.1Z" fill="#fdd49e"/>
<path d="M157.38,263.4 158.5,262.13 159.63,262.5 159.4,265.13 158.5,267.38 157.75,267.75 157.38,266.25Z" fill="#fdbb84"/>
<path d="M155.13,272.85 156.25,271.65 158.13,272.63 160,273.75 159.63,275.1 157.38,274.65 155.5,273.75Z" fill="#fdbb84"/>
<path d="M157,269.63 157.75,267.75 158.5,267.38 161.5,268.13 164.88,267.75 167.5,268.13 169.75,269.25 170.88,270.38 169,271.13 167.13,271.88 165.25,273 163.38,274.13 161.88,275.25 160.38,275.63 160,273.75 158.13,272.63 156.25,271.65Z" fill="#fdbb84"/>
<path d="M160.38,275.63 161.88,275.25 163.38,274.13 165.25,273 167.13,271.88 169,271.13 170.88,270.38 170.13,273 169.38,276 169,279 168.4,281.25 166.38,280.88 164.13,280.13 162.63,278.25 161.13,276.75Z" fill="#fdbb84"/>
<path d="M163.38,280.88 164.13,280.13 166.38,280.88 168.4,281.25 169.75,283.13 170.88,285 170.13,286.5 169,287.63 167.5,286.13 165.63,284.63 164.13,283.5 163.15,282.38Z" fill="#fef0d9"/>
<path d="M170.88,285 172.38,285.38 174.25,286.13 176.13,285 178,284.25 179.88,284.63 181.75,286.13 182.88,288 182.5,290.25 181.38,289.88 180.63,288 179.13,286.88 177.25,287.25 175.75,288.75 174.25,290.1 172.75,289.13 171.25,288 170.13,286.5Z" fill="#fef0d9"/>
<path d="M372.19,150.94 373.88,148.82 377.41,146 380.94,142.47 385.18,138.24 388.71,134.71 392.94,131.88 397.88,129.76 402.82,128.35 407.77,127.65 412,128.07 414.12,129.76 411.29,131.18 407.77,130.47 405.65,131.88 402.12,131.18 398.59,132.59 395.06,133.29 391.53,135.41 388.71,138.24 386.59,141.76 384.89,145.29 383.76,148.82 384.89,152.35 385.46,155.88 383.76,158 380.94,158.71 377.41,158 374.59,157.29 372.75,154.47Z" fill="#fef0d9"/>
<path d="M384.89,145.29 386.59,141.76 388.71,138.24 391.53,135.41 395.06,133.29 398.59,132.59 401.41,133.29 402.82,136.12 402.12,138.94 400,141.06 397.88,143.88 396.19,147.41 395.76,150.94 396.47,154.47 394.35,157.29 392.94,160.12 392.24,162.94 390.12,164.35 387.29,163.65 385.88,160.82 385.46,155.88 384.89,152.35 383.76,148.82Z" fill="#fef0d9"/>
<path d="M402.12,131.18 405.65,131.88 407.77,130.47 411.29,131.18 412,134 412.71,137.53 414.12,140.35 416.24,143.88 418.35,146.99 416.94,149.53 414.12,151.65 410.59,153.06 407.06,153.76 404.24,152.35 402.82,149.53 401.41,146.71 400.71,143.88 402.82,141.76 404.24,139.65 402.82,136.12 401.41,133.29 398.59,132.59Z" fill="#fef0d9"/>
<path d="M378.82,160.82 380.94,159.69 382.07,161.53 381.65,164.35 380.24,165.76 378.4,164.35Z" fill="#fef0d9"/>
<path d="M383.06,163.65 384.89,163.08 386.02,164.78 384.33,165.91Z" fill="#fef0d9"/>
<path d="M376.42,169.29 378.82,167.18 380.24,165.76 381.65,166.47 383.76,167.88 387.29,167.18 390.12,168.59 390.82,171.41 391.53,175.22 390.82,177.48 388.71,179.18 390.82,181.29 389.41,183.41 385.88,184.12 382.35,184.54 379.53,183.41 378.12,180.59 376,178.47 375.29,174.94 375.58,172.12Z" fill="#fdd49e"/>
<path d="M390.82,171.41 390.12,168.59 394.35,167.18 398.59,166.47 402.12,167.18 406.07,167.6 409.18,168.59 409.46,172.12 409.18,175.65 409.88,178.47 407.06,179.88 403.53,180.31 400,179.88 397.88,178.47 394.35,177.06 391.53,175.22Z" fill="#fef0d9"/>
<path d="M388.71,179.18 390.82,177.48 391.53,175.22 394.35,177.06 397.88,178.47 400,179.88 398.59,181.72 395.76,182.28 392.94,182 390.82,181.29Z" fill="#fdd49e"/>
<path d="M370.35,172.12 373.18,170 375.58,169.58 376.42,169.29 375.58,172.12 375.29,174.94 376,178.47 373.88,177.48 371.76,177.06 369.65,175.65Z" fill="#fef0d9"/>
<path d="M407.06,155.18 410.59,154.47 414.82,155.46 415.53,157.29 416.24,158.71 416.94,160.82 417.37,162.94 415.53,164.35 413.41,165.76 412.71,167.88 409.18,168.59 406.07,167.6 406.35,165.76 404.24,165.06 403.53,162.24 405.22,160.12 408.47,159.41 408.89,157.72 406.35,157.29Z" fill="#fef0d9"/>
<path d="M401.41,165.76 404.24,165.06 406.35,165.76 406.07,167.6 402.82,167.6Z" fill="#fdd49e"/>
<path d="M412.71,167.88 413.41,165.76 415.53,164.35 417.37,162.94 420.47,164.35 423.29,166.47 425.41,169.29 426.12,172.12 424,173.25 421.18,172.82 417.65,173.53 414.12,173.25 410.59,173.53 409.18,175.65 409.46,172.12 409.18,168.59Z" fill="#fdd49e"/>
<path d="M409.18,175.65 410.59,173.53 414.12,173.25 417.65,173.53 421.18,172.82 424,173.25 426.12,172.12 428.94,173.53 432.47,174.94 436,176.35 439.53,177.77 443.77,179.88 444.13,181.25 443.75,183.5 442.63,185 440.75,186.13 438.5,186.88 436.25,187.63 435.13,189.13 435.88,191 435.13,192.5 433.63,192.5 432.13,191.38 431.75,189.65 430.25,188.6 428.75,188 426.13,187.63 424.63,188.75 424.25,190.4 422.75,190.63 421.85,189.13 422.38,187.63 421.77,185.47 420.35,186.18 417.53,184.76 414,184.06 410.47,183.35 408.35,181.94 409.88,178.47Z" fill="#fdbb84"/>
<path d="M375.88,186.18 377.29,184.76 378.71,183.07 382.38,184.48 384.35,184.76 383.36,186.88 380.12,187.31 377.29,188.29 374.89,188.29Z" fill="#fef0d9"/>
<path d="M377.29,188.29 380.12,187.31 383.36,186.88 383.65,187.59 387.18,188.29 390,189 390.71,191.12 389.01,192.53 390,194.65 392.12,196.76 394.94,199.59 397.77,201.99 400.59,203.82 402,205.94 399.88,206.65 397.77,205.24 396.35,207.35 397.06,209.89 395.22,211.31 394.24,208.76 392.82,205.94 390.71,203.82 387.88,201 385.76,198.18 384.35,195.35 382.24,193.24 379.41,192.53 377.29,192.53 375.88,190.41 374.89,188.29Z" fill="#fef0d9"/>
<path d="M390,210.18 392.82,209.89 395.65,210.46 394.94,213 392.12,212.72 390,211.59Z" fill="#fef0d9"/>
<path d="M383.36,186.88 384.35,184.76 382.38,184.48 385.91,184.06 389.44,183.35 390.85,181.24 392.97,181.94 395.79,182.22 398.61,181.66 400.02,179.82 403.55,180.25 407.08,179.82 409.91,178.41 408.35,181.94 410.47,183.35 414,184.06 417.53,184.76 420.35,186.18 421.77,185.47 423.88,187.59 424.31,190.13 422.47,190.13 423.18,192.53 421.48,193.94 421.06,195.35 420.35,198.18 418.24,199.59 416.82,200.29 417.53,201.99 414.71,202.84 411.88,203.4 413.29,205.94 414.71,208.76 413.29,211.59 411.18,210.18 409.77,207.35 408.35,205.24 406.94,203.12 405.53,201 404.12,198.88 402,196.76 399.88,194.65 397.77,192.53 395.65,190.69 393.53,189.28 392.12,188.29 390.71,189.71 390,189 387.18,188.29 383.65,187.59Z" fill="#fef0d9"/>
<path d="M414,216.11 416.82,215.82 419.65,216.53 417.53,217.52 414.71,217.24Z" fill="#fef0d9"/>
<path d="M434.19,216.53 436.17,215.82 437.29,216.53 435.6,217.94Z" fill="#fef0d9"/>
<path d="M394.58,188.75 395,187.33 396.67,187.92 398.75,189.17 400.83,189.58 402.5,189.17 402.67,190.42 402.08,191.5 400,191 397.92,190.83 396.25,190.83 396.67,192.08 398.33,193.75 400,195.42 401.83,197.08 400.42,196.83 398.33,195.17 396.25,193.5 394.58,191.67 393.5,190.42 393.75,189.33Z" fill="#fdd49e"/>
<path d="M351.25,158.67 352.87,157.37 355.04,157.04 356.67,158.12 358.29,159.75 357.21,161.37 356.12,163 357.75,164.62 359.37,166.25 361,167.87 362.62,169.5 364.25,171.12 365.55,172.75 365.12,174.37 363.71,175.46 361.54,176 359.37,176 357.21,176.54 355.04,177.08 352.87,177.95 351.25,178.38 352.33,176.87 353.96,175.78 352.87,174.37 352.33,172.75 353.96,171.67 355.04,170.58 354.28,169.28 352.87,168.42 352.12,166.79 351.25,164.62 350.71,161.92Z" fill="#fdd49e"/>
<path d="M342.58,173.29 343.67,170.58 345.29,168.42 347.46,166.79 348.22,167.87 350.17,168.2 351.25,169.5 350.71,171.67 349.08,173.29 346.92,174.05 344.53,174.37Z" fill="#fef0d9"/>
<path d="M347.46,165.71 349.62,165.17 351.03,166.47 350.17,168.2 348.22,167.87Z" fill="#fdd49e"/>
<path d="M353.42,182.28 356.12,181.42 358.29,180.33 359.37,178.38 362.08,177.62 364.79,177.08 367.5,175.78 369.67,176.54 371.83,177.95 374,179.25 375.95,180.33 377.47,181.96 376.71,183.58 375.3,184.88 374.54,186.83 375.62,188.46 377.03,190.08 377.25,192.79 376.71,194.42 374.54,194.63 372.37,193.87 370.21,194.96 368.04,196.58 366.96,197.67 364.25,197.12 361.54,196.37 359.05,195.5 359.7,192.79 360.13,189.54 359.37,186.83 357.21,184.67 355.04,183.58Z" fill="#fdd49e"/>
<path d="M342.58,196.58 345.29,194.96 349.08,195.28 352.87,195.5 356.67,196.04 359.05,195.5 361.54,196.37 364.25,197.12 366.96,197.67 368.04,199.29 366.96,200.92 364.79,202.54 363.38,204.71 362.62,207.42 361.54,209.58 359.37,211.21 356.67,212.62 353.96,213.05 351.25,213.7 349.08,213.92 348.22,212.29 347.78,209.58 348,206.33 348.22,203.08 348.54,200.37 346.37,199.29 343.67,198.75Z" fill="#fdd49e"/>
<path d="M343.67,198.75 346.37,199.29 348.54,200.37 348.22,203.08 348,206.33 347.78,209.58 345.83,212.29 343.88,211.75 342.58,209.04 342.04,205.79 342.37,202Z" fill="#fef0d9"/>
<path d="M380.72,197.67 381.8,196.8 382.67,198.21 382.45,199.83 381.37,200.7 380.5,199.29Z" fill="#fdd49e"/>
<path d="M380.28,202.54 382.12,202 383.21,203.62 382.88,206.33 381.37,207.2 379.96,205.79Z" fill="#fef0d9"/>
<path d="M442.35,230.82 445.53,228 447.29,225.53 450.82,222.71 453.82,225 457.35,227.65 460.88,230.29 463.88,232.06 467.41,231.53 468.5,233.5 470,234.63 471.13,233.88 472.63,236.13 474.13,238.38 475.25,240.25 476.38,241.9 477.5,244.75 478.63,245.13 479.38,245.13 480.13,246.4 481.25,249.1 483.88,249.63 486.5,250.38 488.38,250 489.5,251.5 489.13,254.5 488,256.75 485,258.25 483.13,259.38 482.94,260.29 481.67,260.21 479.68,260.47 476.94,261 474.29,261.67 472.67,262.66 471.29,264.35 470.01,265.01 468.29,264.35 465.65,264.18 463.35,264 461.34,264.35 459.12,262.5 457.07,259.99 454.99,257.08 452.91,253.76 451.25,250.01 449.16,246.67 447.08,243.74 445,240.42 442.92,237.49 441.24,235.41 441.29,232.59Z" fill="#fdd49e"/>
<path d="M441.65,223.06 443.06,223.94 444.47,224.24 446.5,222.25 449.01,220.76 450.82,222.71 447.29,225.53 445.53,228 442.35,230.82 441.29,230.29 442,225.88Z" fill="#fdd49e"/>
<path d="M440.59,222.71 442,222.35 442,225.88 441.29,230.29 440.24,227.65Z" fill="#fc8d59"/>
<path d="M441.12,224.47 442,224.12 442,226.59 441.12,226.94Z" fill="#ef6548"/>
<path d="M440.94,220.24 442,219.18 442,222.35 440.94,222.71Z" fill="#fc8d59"/>
<path d="M452.06,211.76 455.59,211.41 458.24,212.65 460,215.65 462.65,219.18 465.29,223.24 467.94,226.76 469.18,230.29 467.41,231.53 463.88,232.06 460.88,230.29 457.35,227.65 453.82,225 450.82,222.71 449.01,220.76 451.53,219 452.5,217.5 452.94,214.94 454,213.53 453.47,212.24Z" fill="#fc8d59"/>
<path d="M467.38,231.25 469.25,230.88 470.38,230.88 471.13,233.88 470,234.63 468.5,233.5Z" fill="#fef0d9"/>
<path d="M461.34,264.35 463.35,264 465.65,264.18 468.29,264.35 470.01,265.01 471.29,264.35 472.67,262.66 474.29,261.67 476.94,261 479.68,260.47 481.67,260.21 482.94,260.29 483.82,263.82 484,265.59 482.94,267.35 482.68,268.34 480.35,269.29 477.65,270.67 475,271.94 472.35,273.35 469.67,274.34 467.01,275.29 465.01,276.35 463,276.46 462.21,274.34 461.54,271.66 461.01,268.94 461.01,266.29Z" fill="#ef6548"/>
<path d="M489.13,244.75 490.63,245.5 492.5,246.63 494.75,248.13 497,249.25 498.5,250.75 497.38,253 495.88,255.25 494.38,257.5 494,259.38 492.5,261.25 491,263.13 489.12,262.06 486.12,264.35 483.82,263.82 482.94,260.29 483.13,259.38 485,258.25 488,256.75 489.13,254.5 489.5,251.5 488.38,250 488.75,247.38Z" fill="#fdd49e"/>
<path d="M488.9,241.38 489.88,240.25 490.25,241.75 489.5,242.5Z" fill="#fdd49e"/>
<path d="M480.13,246.4 482.75,246.25 485,245.88 486.5,244.38 488,242.5 488.9,241.38 489.5,242.5 489.13,244.75 488.75,247.38 488.38,250 486.5,250.38 483.88,249.63 481.25,249.1Z" fill="#fef0d9"/>
<path d="M476.38,241.75 477.5,241.15 478.85,241.75 479.15,243.63 478.63,245.13 477.5,244.75Z" fill="#fef0d9"/>
<path d="M458.23,212.65 459.12,210.88 460.88,209.12 463.53,207.35 466.18,208.59 468.82,210.88 470.59,210.88 474.12,212.12 477.65,212.65 482.06,211.41 486.47,210 490.88,210.88 494.41,212.65 496.71,214.94 496.18,218.82 497.41,222.35 498.82,225.88 499.71,230.29 501.47,232.06 502.35,235.59 501.47,240 502,242.65 500.75,242.88 497,242.5 494,241.75 491.75,240.63 490.25,238.9 488.75,238.75 486.5,239.35 483.88,239.13 481.25,237.63 479,236.13 476.75,234.25 474.88,232 473,230.35 470.38,230.5 469.18,230.29 467.94,226.76 465.29,223.23 462.65,219.18 460,215.65Z" fill="#fdbb84"/>
<path d="M419.76,203.82 422.06,202.06 425.59,201.18 430,200.29 434.41,199.76 437.94,200.29 441.47,201.53 445.88,201.18 450.29,200.82 453.82,201.53 457.35,202.59 460,203.82 461.76,206.12 460.88,209.12 459.12,210.88 458.23,212.65 455.59,211.41 452.06,211.76 448.53,212.65 445,212.12 443.24,213.53 441.47,214.94 437.94,213.88 434.41,213.18 430.88,213.53 427.35,212.65 423.82,211.76 421.18,210 419.76,207.35Z" fill="#fdbb84"/>
<path d="M418.53,200.29 420.82,199.06 422.94,200.29 422.06,202.06 419.76,202.59Z" fill="#fdbb84"/>
<path d="M450.29,197.29 453.82,197.65 457.35,199.06 460.88,201.18 460,203.82 457.35,202.59 453.82,201.53 450.29,200.82Z" fill="#fef0d9"/>
<path d="M460,203.82 460.88,201.18 464.41,202.06 467.94,202.94 468.82,207.35 470.59,210.88 468.82,210.88 466.18,208.59 463.53,207.35 460.88,209.12 461.76,206.12Z" fill="#fdbb84"/>
<path d="M499.71,230.29 503.23,231.53 507.65,230.29 511.18,227.65 513.82,225.53 516.47,223.23 518.23,220.59 517.88,217.94 519.12,215.29 521.76,213.18 525.65,211.76 528.82,213.53 531.47,216.18 530.59,218.82 527.94,219.71 526.18,222.35 528.82,225 527.94,228.53 525.29,232.06 522.65,235.59 520,239.12 521.76,241.76 523.18,245.29 519.12,246.18 514.71,243.88 511.18,243.18 507.65,242.65 502,242.65 501.47,240 502.35,235.59 501.47,232.06Z" fill="#fdbb84"/>
<path d="M457.35,180.88 460.88,176.47 466.18,174.71 472.35,175.59 477.65,176.47 483.82,174.71 482.94,170.29 486.47,167.65 493.53,166.76 498.82,165 503.23,167.65 509.41,166.76 514.71,168.53 520,171.18 525.29,173.82 530.59,176.47 535.88,179.12 539.41,180.88 537.65,184.41 534.12,187.94 531.47,191.47 532.35,195.88 530.59,197.65 526.18,196.76 521.76,197.29 517.35,198.53 512.94,199.41 510.29,201.18 507.65,202.94 504.12,200.29 500.59,197.29 496.18,195 491.76,192.35 487.35,190.59 482.94,190.24 479.41,191.47 479.76,195 477.65,196.24 475.88,198.53 474.12,196.76 472.35,194.12 470.59,190.94 467.94,188.47 464.41,187.94 460.88,189.71 458.23,185.29Z" fill="#fef0d9"/>
<path d="M479.41,191.47 482.94,190.24 487.35,190.59 491.76,192.35 496.18,195 500.59,197.29 504.12,200.29 507.65,202.94 510.29,204.71 512.94,206.12 511.18,207.88 507.65,206.82 505.88,209.12 504.12,210.88 501.47,208.23 497.94,205.59 494.41,202.94 490.88,201.53 487.35,200.29 483.82,199.41 480.82,197.65 479.76,195Z" fill="#fef0d9"/>
<path d="M475,203.82 477.65,202.94 478.53,200.29 480.82,197.65 483.82,199.41 487.35,200.29 490.88,201.53 494.41,202.94 497.94,205.59 501.47,208.23 504.12,210.88 504.29,212.29 503.06,214.23 500.59,216 498.65,216.71 496.71,217.94 496.71,214.94 494.41,212.65 490.88,210.88 486.47,210 482.06,211.41 477.65,212.65 479.41,211.76 478.53,209.12 475.88,206.47Z" fill="#fef0d9"/>
<path d="M512.94,199.41 517.35,198.53 521.76,197.29 526.18,196.76 530.59,197.65 531.47,199.41 527.94,201.53 524.41,202.59 521.76,203.82 518.23,204.71 514.71,205.06 512.94,206.12 510.29,204.71 507.65,202.94 510.29,201.18Z" fill="#fdbb84"/>
<path d="M507.65,206.82 511.18,207.88 512.94,206.12 514.71,205.06 518.23,204.71 521.76,203.82 523.53,206.47 525.65,209.12 524.94,210.88 521.76,211.76 518.23,213.53 517.88,210.88 516.47,208.23 512.94,210 508.53,210.88 505.88,209.12Z" fill="#fdbb84"/>
<path d="M541.18,180.82 546.47,178.53 551.76,176.76 557.94,177.65 560.24,174.12 565.88,175.88 572.06,177.65 578.23,178.53 584.41,179.41 590.59,180.29 595.88,179.76 600.29,180.82 602.06,178.53 605.59,181.18 608.23,183.82 609.12,186.47 604.71,187.88 600.29,189.12 596.76,191.41 595.88,194.41 592.35,197.06 587.94,199.18 583.53,198.47 578.23,197.41 572.94,197.06 567.65,196.71 563.24,194.41 559.71,192.12 555.29,190.88 551.76,188.24 549.12,185.59 545.59,182.94Z" fill="#fef0d9"/>
<path d="M637,209.67 638.75,208.5 641.08,209.08 643.42,211.42 645.17,214.33 646.1,216.67 644.58,218.07 642.25,219 641.08,219.58 639.92,217.25 638.4,214.92 637.58,212.58Z" fill="#fef0d9"/>
<path d="M658,190.42 659.75,191.58 661.5,192.17 663.83,192.75 666.17,193.92 668.5,194.5 669.43,195.43 667.92,196.6 666.17,197.07 665,198.58 663.25,198 661.5,197.77 660.57,199.17 659.17,198.58 658.23,196.6 658.93,194.5 658.58,192.4Z" fill="#fef0d9"/>
<path d="M662.08,200.92 664.42,201.27 666.17,203.25 667.57,205.58 668.27,208.5 669.08,211.42 670.25,214.33 670.6,216.08 669.08,217.83 667.1,219 665,219.93 663.25,221.33 661.73,220.75 660.57,219.58 659.17,221.33 658,223.08 656.6,223.67 655.08,224.6 654.5,226.58 653.33,227.75 652.17,226 651,224.25 649.25,223.08 648.67,221.92 650.42,220.17 652.17,218.42 653.92,216.67 656.25,216.08 658.58,215.5 659.17,213.17 660.1,211.42 662.08,210.83 663.6,209.08 664.07,206.17 663.25,203.83 662.43,202.43Z" fill="#fef0d9"/>
<path d="M641.47,167.65 644.12,170.29 647.65,174.35 651.18,178.23 654.71,181.76 657.35,185.29 659.12,187.94 657.88,187.94 654.71,184.94 651.18,180.88 647.65,176.82 644.47,172.94 642,169.41Z" fill="#fdd49e"/>
<path d="M446.76,124.41 448.53,120.88 452.06,118.24 457.35,116.82 462.65,116.12 467.41,116.12 466.71,117.71 461.76,118.59 457.35,119.65 453.82,121.76 452.94,125.29 455.59,127.41 457.35,128.82 453.82,129.18 450.29,127.41 447.65,126.18Z" fill="#fdd49e"/>
<path d="M494.41,108.53 497.94,107.65 502.35,109.06 506.76,110.82 510.29,112.06 509.06,113.29 504.12,112.59 499.71,111.18 496.18,109.76Z" fill="#fdd49e"/>
<path d="M511.53,111.53 515.59,112.06 518.59,113.29 516.47,114 512.94,112.94Z" fill="#fdd49e"/>
<path d="M427.35,108.53 431.76,108 435.29,108.53 432.65,109.76 428.24,109.41Z" fill="#fdd49e"/>
<path d="M575.29,117.88 578.82,117 583.24,117.35 586.76,118.59 588.53,120 585,120.35 580.59,120 577.06,119.29Z" fill="#fdd49e"/>
<path d="M591.18,118.76 594.71,119.12 597.88,120 593.82,120Z" fill="#fdd49e"/>
<path d="M586.76,122.12 590.29,121.76 592.59,123.18 589.41,123.88Z" fill="#fdd49e"/>
<path d="M635.88,244.41 637.65,243.18 638.71,246.18 638,250.24 636.41,250.94 635.53,247.94Z" fill="#fef0d9"/>
<path d="M611.53,257.65 613.82,256.24 616.12,257.65 615.59,260.29 612.94,261.53 611.18,259.76Z" fill="#fdd49e"/>
<path d="M582.94,240 584.71,243.53 587.35,247.94 590,250.59 592.65,252.35 590.88,255 588.23,257.65 586.47,260.29 587.35,263.82 589.12,267.35 590.35,270.88 591.41,275.29 592.12,279.71 590.88,281.47 590,277.94 589.12,273.53 587.35,269.12 585.59,265.59 583.82,266.47 581.53,267.88 579.41,266.47 578.53,262.94 576.76,259.41 575,255.88 573.24,253.24 574.12,249.71 575.53,246.18 576.76,242.65 577.65,240 579.12,237.65 580.88,235.53 583.18,238.53Z" fill="#fc8d59"/>
<path d="M586.47,260.29 588.23,257.65 590.88,255 592.65,256.76 594.41,259.41 597.06,262.06 600.59,261.18 603.76,262.94 605.88,266.47 605.53,270 603.23,271.41 600.59,272.65 599.18,275.29 597.94,277.06 595.65,275.29 593.53,274.41 592.12,276.18 591.76,279.71 592.65,284.12 594.41,287.65 596.71,291.18 598.82,293.29 597.41,294.35 594.94,292.06 592.65,289.06 590.88,285 590.88,281.47 592.12,279.71 591.41,275.29 590.35,270.88 589.12,267.35 587.35,263.82Z" fill="#fdbb84"/>
<path d="M592.65,252.35 595.29,250.24 598.82,249.18 601.47,248.47 604.12,250.59 605.88,253.24 605,255.88 607.65,258.53 610.29,262.06 611.53,265.59 610.29,268.24 607.65,269.12 605.88,266.47 603.76,262.94 600.59,261.18 597.06,262.06 594.41,259.41 592.65,256.76 590.88,255Z" fill="#fef0d9"/>
<path d="M601.47,248.47 604.12,247.94 607.65,249.71 610.29,252.35 608.53,255 607.65,257.65 610.29,260.29 612.94,263.82 615.06,268.24 616.12,272.65 615.59,276.18 612.94,279.71 609.41,282.35 606.76,285 605.53,286.76 605,283.24 605,282 607.65,280.59 610.29,277.94 611.53,274.41 611.53,270 610.29,268.24 611.53,265.59 610.29,262.06 607.65,258.53 605,255.88 605.88,253.24 604.12,250.59Z" fill="#fef0d9"/>
<path d="M599.18,275.29 600.59,272.65 603.23,271.41 605.53,270 607.65,269.12 610.29,268.24 611.53,270 611.53,274.41 610.29,277.94 607.65,280.59 605,282 602.35,280.94 600.23,278.82Z" fill="#fdd49e"/>
<path d="M596.71,291.18 598.82,293.29 600.59,294.71 602.35,297.35 603.76,300.88 605,304.41 605.53,306.71 603.23,305.65 600.59,303.18 598.47,300 596.71,296.47 595.65,293.82 597.41,294.35Z" fill="#fdd49e"/>
<path d="M547.65,285 549.76,284.12 551.53,286.76 552.59,290.29 551.53,293.29 549.06,293.82 547.65,291.18 547.12,287.65Z" fill="#fdd49e"/>
<path d="M584.35,296.12 587.35,295.59 590.88,298.23 594.41,301.76 597.94,305.65 601.47,309.71 605,313.23 607.65,316.76 609.41,321.18 609.06,324.71 607.29,325.59 604.12,322.94 600.59,319.41 597.06,315 593.53,310.59 590.35,306.18 587.35,301.76 585.06,298.59Z" fill="#fdd49e"/>
<path d="M607.65,326.12 611.18,325.59 615.59,326.82 620,327.88 624.41,329.12 628.82,330.88 630.94,332.12 628.82,333.18 624.41,332.65 620,331.41 615.59,330.35 611.18,329.12 608.53,327.88Z" fill="#fdd49e"/>
<path d="M616.47,306.18 619.12,304.41 622.65,303.18 626.18,300.88 628.82,297.35 631.47,293.82 634.12,292.06 636.76,293.82 639.41,296.12 637.29,299.12 635.88,301.76 638,304.41 638.53,307.94 636.76,311.47 635,315 633.23,318.53 630.59,320.29 627.06,319.06 623.53,318.53 620,317.65 618.23,315 617.35,311.47 616.47,308.82Z" fill="#fdd49e"/>
<path d="M640.29,309.71 642.94,307.94 646.47,307.41 650,306.71 653.53,305.65 653.88,307.06 650.88,308.82 647.35,309.71 644.71,310.59 645.59,313.23 647.88,315 648.59,317.65 646.47,317.29 644.71,315.88 644.35,318.53 645.59,322.06 644.71,324.35 642.94,322.94 642.59,319.41 641.18,321.18 640.29,323.82 639.06,322.06 639.76,317.65 640.82,314.12Z" fill="#fdd49e"/>
<path d="M639.06,262.06 641.18,261.18 643.29,262.59 643.82,266.47 642.94,270 644.71,272.65 647.35,273.88 648.23,275.29 645.59,276.18 642.94,274.41 641.18,272.65 639.76,269.12 639.06,265.59Z" fill="#fdbb84"/>
<path d="M648.23,287.65 650.88,286.24 653.53,284.47 655.65,285.53 656.71,288.53 656.18,292.06 654.41,294.71 651.76,293.82 650,291.18 647.35,290.29 645.59,289.41Z" fill="#fdbb84"/>
<path d="M634.12,287.29 636.76,284.12 639.41,280.59 640.12,281.47 637.65,285 635.18,288Z" fill="#fdbb84"/>
<path d="M645.59,277.94 647.88,277.06 649.12,279.18 647.35,281.47 645.76,280.24Z" fill="#fdbb84"/>
<path d="M649.65,276.18 652.12,277.41 653.18,280.24 651.76,283.24 650.35,280.94 650.71,278.82Z" fill="#fdbb84"/>
<path d="M646.47,282.35 648.59,282 649.29,284.47 647.35,285.53Z" fill="#fdbb84"/>
<path d="M634.12,332.12 637.65,331.41 638.53,332.65 635,333.53Z" fill="#fdd49e"/>
<path d="M640.29,331.76 643.82,330.88 647.35,331.41 646.47,333 642.06,333.18Z" fill="#fdd49e"/>
<path d="M650,335.29 653.53,333.18 657.06,331.76 657.94,332.65 654.41,334.94 651.41,336.71Z" fill="#fdd49e"/>
<path d="M659.71,304.41 661.47,305.29 662,308.82 660.94,311.47 659.71,308.82Z" fill="#fdd49e"/>
<path d="M661.47,317.65 665,317.12 666.76,318.53 664.12,319.41 661.47,319.06Z" fill="#fdd49e"/>
<path d="M655.65,318.18 657.94,317.65 658.47,319.06 656.18,319.41Z" fill="#fdd49e"/>
<path d="M562.88,236.23 567.65,235.88 569.41,237.65 567.29,239.06 563.76,238.71Z" fill="#fef0d9"/>
<path d="M666.82,312.71 670,311.47 673.53,312 675.29,314.47 673.18,316.24 671.76,318.53 674.41,319.41 677.94,317.65 680.59,315.53 684.12,314.47 687.65,315.88 690.29,317.29 690.29,333.53 687.65,333.18 685,331.76 682.71,331.41 683.76,328.24 681.47,325.59 678.82,323.82 676.18,321.18 673.53,320.29 670.88,317.65 669.12,315Z" fill="#fdd49e"/>
<path d="M690.29,317.29 693.82,318.53 697.35,320.29 700,322.06 702.65,324.71 705.29,326.47 703.53,328.24 701.76,330 704.41,331.76 707.06,333.53 709.71,335.29 712,337.06 712,337.6 710,338.1 708,337.1 705,336.5 703.5,335 702,333.1 701,331.6 700,330.5 699,329.5 698,329.75 696.5,331 695,333 693,334.25 690.29,333.53Z" fill="#fc8d59"/>
<path d="M707.06,324.35 709.71,323.29 712.35,322.06 714.47,320.29 715.35,318.53 714.12,316.76 715.53,316.24 717.29,318 716.94,320.82 715.18,322.94 712.35,324.35 709.71,325.24 707.41,325.59Z" fill="#fc8d59"/>
<path d="M722.06,323.82 723.82,325.59 724.71,327.88 723.29,326.82Z" fill="#fc8d59"/>
<path d="M727.35,328.24 730,330 728.59,330.35Z" fill="#fc8d59"/>
<path d="M731.76,330.35 734.41,332.65 733.18,332.82Z" fill="#fc8d59"/>
<path d="M734.41,334.41 737.06,336.18 737.94,337.94 736.18,337.06Z" fill="#fc8d59"/>
<path d="M746.76,349.06 748,350.29 748.53,352.94 747.29,352.06Z" fill="#fdd49e"/>
<path d="M737.41,363.18 739.71,364.41 742.35,367.06 743.23,368.82 741.47,368.47 738.82,366.18Z" fill="url(#hatch)"/>
<path d="M618.75,376.25 620,371.25 623.75,367.5 628.75,365 633.75,363 640,361.25 644.5,357.5 647.5,353.75 651.25,350 655,347.5 659.5,346.25 663.75,343.75 666.25,341.25 670,340 674.5,341.25 678.75,342 677.5,346.25 679.5,350 683,353.75 686.25,355.5 688,352.5 689.5,347.5 690.5,343 692,338.75 693.75,342.5 695,347.5 697,352.5 699.5,357.5 702.5,362.5 705.5,367.5 707.5,372.5 708.75,377.5 708,383.75 706.25,390 703.75,395 700,400 696.25,405 692.5,408 688,410.5 683.75,412.5 679.5,411.25 675.5,412 672,409.5 668.75,406.25 666.25,402 663.75,400 661.25,401.25 658.75,398.75 655,396.25 650,394.5 644.5,395 638.75,397 633.75,399.5 628.75,401.25 623,402 617.5,401.25 616.25,398.75 618.75,395 620,390 619.5,385 618,380Z" fill="#fef0d9"/>
<path d="M670.5,418.75 674.5,417.5 678.75,418 677.5,422 674.5,424.5 671.25,423Z" fill="#fef0d9"/>
<path d="M742,402 743.75,401.25 745,405 748,407.5 750,409.5 747.5,412.5 743.75,415 740,417.5 736.25,419.5 735,417.5 738.75,414.5 742,411.25 743,407Z" fill="#fef0d9"/>
<path d="M708.75,430 712.5,427 717.5,424.5 722.5,422 727.5,419.5 732,417.5 733.75,419.5 730,422.5 725,425.5 720,428 715,430.5 710.5,432Z" fill="#fef0d9"/>
<path d="M770,356.25 773,354.5 776.25,353 777,354 773.75,356 771.25,358Z" fill="#fdd49e"/>
<path d="M218.28,263.76 218.88,263.16 219.48,263.76 218.88,264.36Z" fill="#fdd49e"/>
<path d="M219.16,266.76 219.76,266.16 220.36,266.76 219.76,267.36Z" fill="#fdd49e"/>
<path d="M220.58,269.41 221.18,268.81 221.78,269.41 221.18,270.01Z" fill="#fdd49e"/>
<path d="M221.46,272.06 222.06,271.46 222.66,272.06 222.06,272.66Z" fill="#fdd49e"/>
<path d="M222.34,274.71 222.94,274.11 223.54,274.71 222.94,275.31Z" fill="#fdd49e"/>
<path d="M219.87,276.82 220.47,276.22 221.07,276.82 220.47,277.42Z" fill="#fdd49e"/>
<path d="M303.9,264 304.5,263.4 305.1,264 304.5,264.6Z" fill="#fdd49e"/>
<path d="M305.9,266.5 306.5,265.9 307.1,266.5 306.5,267.1Z" fill="#fdd49e"/>
<path d="M308.4,268.5 309,267.9 309.6,268.5 309,269.1Z" fill="#fdd49e"/>
<path d="M304.4,268 305,267.4 305.6,268 305,268.6Z" fill="#fdd49e"/>
<path d="M462.53,341.47 463.23,340.77 463.93,341.47 463.23,342.17Z" fill="#fdd49e"/>
<path d="M464.32,342.35 464.82,341.85 465.32,342.35 464.82,342.85Z" fill="#fdd49e"/>
<path d="M493.32,363.18 494.12,362.38 494.92,363.18 494.12,363.98Z" fill="#fc8d59"/>
<path d="M501.5,439 502.5,438 503.5,439 502.5,440Z" fill="url(#hatch)"/>
<path d="M440,288.75 441.25,286.67 441.67,283.75 443.33,281.67 445,278.33 446.25,275.42 447.5,272.92 450,271.67 452.92,272.08 455.42,272.92 457.08,274.17 458.75,275.83 460,277.5 459.58,279.58 460.83,280.83 462.5,281.67 464.17,283.75 466.67,285.83 469.17,287.5 471.67,288.75 472.92,289.58 470.83,291.67 468.75,293.75 466.25,295.42 463.33,296.67 460,297.92 457.08,298.75 455,299.58 452.92,300 450.83,298.75 448.75,297.5 446.67,296.25 445,295.42 443.75,293.33 442.08,291.25Z" fill="#ef6548"/>
<path d="M461.67,281.25 463.75,282.08 468.33,281.25 473.33,280 478.33,278.75 480.67,278.17 480.83,280.42 479.58,284.17 477.5,289.17 475,293.75 472.08,297.92 468.75,301.67 465.42,305.42 462.5,308.75 460,312.08 458.75,314.17 457.92,311.67 457.67,306.67 457.92,302.5 458.75,300 460,297.92 463.33,296.67 466.25,295.42 468.75,293.75 470.83,291.67 472.92,289.58 471.67,288.75 469.17,287.5 466.67,285.83 464.17,283.75 462.5,281.67Z" fill="#fc8d59"/>
<path d="M442,219.18 441.75,216.53 442.49,214.76 445,213.53 449.01,213 453.47,212.24 454,213.53 452.94,214.94 452.5,217.5 451.53,219 449.01,220.76 446.5,222.25 444.47,224.24 443.06,223.94 441.65,223.06 442,222.35Z" fill="#ef6548"/>
<path d="M496.67,218 498.67,216.67 500.67,216 503,214.33 504.33,212.33 506,211.33 508,212 510,212.33 512,211.67 514,211 515.2,209.33 516.33,209 517.33,210 517.87,211.67 518.67,212.67 520.67,212 522.67,211.33 524.67,211 525,211.67 523,212.33 521,212.8 519.33,213.33 518.67,214.33 518.33,216 519,217.67 518.67,219.33 517.33,220.33 516.67,222 516.33,223.67 515.67,225.33 514,226 512.33,227 511,228.67 510.33,230.33 508.67,231.33 506,231.67 503.33,231.87 501,231.67 499.33,231 500,229.33 500.67,227.67 499,226.33 498,224.67 497.33,222.33 496.67,220Z" fill="#d7301f"/>
<path d="M459.58,277.5 460.83,276.67 462.08,278.33 461.67,281 460,280.58 459.33,279.17Z" fill="#fdd49e"/>
<path d="M323.4,274.4 325.5,273.95 327.75,273.8 330,274.25 327.75,274.7 325.5,274.85 323.63,275" fill="none"/>
<path d="M383.33,185.83 385.83,186.25 388.33,186.25 390.42,187.08 392.92,187.33 395.42,186.67 396.25,185 396.83,182.92" fill="none"/>
<path d="M383.33,184.58 385.83,185 388.33,183.75 389.58,182.08 391.67,181.67 393.75,181.67 396.25,181.5" fill="none"/>
<path d="M396.83,182.92 397.33,184.33 399.17,184 401.67,183.5 404.17,182.92 407.08,182.5 408.33,180.67" fill="none"/>
<path d="M396.83,182.92 398.75,181 399.83,179.33" fill="none"/>
<path d="M396.25,187.08 397.92,188.33 400,189.17 402.5,188.75 405,187.92 406.67,185.83 408.33,183.5 407.08,182.5" fill="none"/>
<path d="M390.42,187.33 390.83,189.17 392.5,189.58 394.58,188.75 395,187.08" fill="none"/>
<path d="M402.5,189.17 405,188.17 407.08,188.75 408.33,190.42 409.58,192.08 410.42,193.75 409.58,195.42 407.92,196.67 406.25,197.08 405,195.83 403.75,194.17 402.92,192.08 402.08,191.5" fill="none"/>
<path d="M409.58,192.08 410.83,193.75 413.33,194.17 416.25,193.75 419.17,192.92 421.67,191.67 422.92,190" fill="none"/>
<path d="M418.33,182.92 420,184.58 421.25,186.67 422.5,189.17" fill="none"/>
<path d="M410.67,196.67 411.25,198.75 412.92,200 415,199.83 417.5,199.17 420,198.33" fill="none"/>
<path d="M405.83,200.42 408.33,200 410.83,199.58 412.92,200.17" fill="none"/>
<path d="M403.75,198.33 405.42,197.92 406.25,200 405.83,202.08" fill="none"/>
<path d="M402.08,191.5 402.92,193.33 402.08,195.42 401.83,197.08 403.75,198.33" fill="none"/>
<path d="M406.25,197.08 407.92,196.67 409.58,195.42 410.67,196.67" fill="none"/>
<path d="M405.42,197.92 406.25,197.08" fill="none"/>
<path d="M405.22,159.69 410.59,158.85 416.24,158.71" fill="none"/>
<path d="M403.81,163.36 407.77,162.8 412,163.65 415.53,164.35" fill="none"/>
<path d="M371.34,173.53 373.6,173.81 375.58,173.25" fill="none"/>
<path d="M640,196.18 636.47,196.18 638.23,192.65 639.65,188.24 638.23,184.71 634.71,182.94 629.41,180.82 624.12,178.53 619.71,175.88 615.29,173.24 610.88,170.94 606.47,169.71 602.94,171.47 601.53,175 600.29,180.82" fill="none"/>
<path d="M640,196.18 636.47,197.94 632.94,200.59 630.29,203.24" fill="none"/>
<path d="M531.47,216.12 533.24,217.35 536.76,220.88 540.29,227.94 542.59,230.59 546.47,229.71 550.88,232.35 555.29,235 559.71,236.76 562.88,236.23 567.65,235.88 569.41,237.65 572.94,234.12 576.47,233.23 580.88,235.53" fill="none"/>
<path d="M542.59,230.59 542.06,232.35 544.71,234.12 549.12,236.23 553.53,238.53 557.94,239.76 562,240.29 562.35,237.65" fill="none"/>
<path d="M562.35,241.53 564.12,243.82 563.24,246.47 565,249.12 566.24,251.76" fill="none"/>
<path d="M562.35,241.53 566.76,240.82 570.82,242.59 572.59,246.12 571.53,249.65 572.94,252.65" fill="none"/>
<path d="M619.12,304.41 621.76,307.06 626.18,306.71 629.71,304.41 632.35,300.88 634.12,296.47 635.88,294.71" fill="none"/>
</g>
<g id="legend">
<rect x="186.5" y="518.5" width="47.5" height="10" fill="url(#hatch)" stroke="#c4c4c4" stroke-width="0.7"/>
<rect x="253.5" y="518.5" width="58.6" height="10" fill="#fef0d9"/>
<rect x="312.1" y="518.5" width="58.6" height="10" fill="#fdd49e"/>
<rect x="370.7" y="518.5" width="58.6" height="10" fill="#fdbb84"/>
<rect x="429.3" y="518.5" width="58.6" height="10" fill="#fc8d59"/>
<rect x="487.9" y="518.5" width="58.6" height="10" fill="#ef6548"/>
<rect x="546.5" y="518.5" width="58.6" height="10" fill="#d7301f"/>
<rect x="605.1" y="518.5" width="58.6" height="10" fill="#990000"/>
<rect x="253.5" y="518.5" width="410.2" height="10" fill="none" stroke="#c4c4c4" stroke-width="0.6"/>
<g stroke="#999" stroke-width="0.7" opacity="0.7">
<path d="M210,515.5V518.5M253.5,515.5V528.5M312.1,515.5V528.5M370.7,515.5V528.5M429.3,515.5V528.5M487.9,515.5V528.5M546.5,515.5V528.5M605.1,515.5V528.5"/>
</g>
</g>
</svg>
<div class="t lg" style="left:210px">No data</div>
<div class="t lg" style="left:254px">0</div>
<div class="t lg" style="left:312px">0</div>
<div class="t lg" style="left:370.5px">0.1</div>
<div class="t lg" style="left:429px">1</div>
<div class="t lg" style="left:488px">10</div>
<div class="t lg" style="left:546px">100</div>
<div class="t lg" style="left:605.5px">1,000</div>
<div class="t lg" style="left:664px">10,000</div>
<div class="t ft" id="f1" style="left:16px;top:551px;letter-spacing:0.14px"><b style="letter-spacing:-0.25px">Data source:</b> IHME, Global Burden of Disease (2024)</div>
<div class="t ft" id="f2" style="left:16px;top:571px;letter-spacing:0.15px"><b style="letter-spacing:0">Note:</b> To allow for comparisons between countries and over time, this metric is age-standardized.</div>
<div class="t ft" id="f3" style="right:21px;top:551px;letter-spacing:0.04px">war-and-peace | CC BY</div>
</body></html>
